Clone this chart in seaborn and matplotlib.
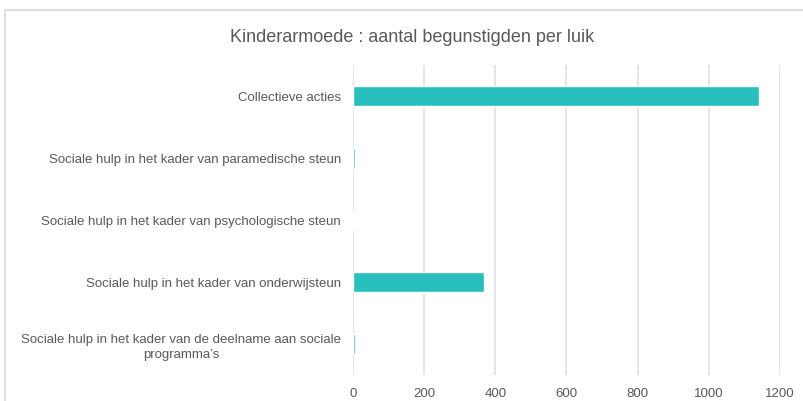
import numpy as np
import pandas as pd
import matplotlib.pyplot as plt
import seaborn as sns
from matplotlib.patches import Rectangle

luiken = ["Collectieve acties",
          "Sociale hulp in het kader van paramedische steun",
          "Sociale hulp in het kader van psychologische steun",
          "Sociale hulp in het kader van onderwijsteun",
          "Sociale hulp in het kader van de deelname aan sociale\nprogramma\u2019s"]
begunstigden = [1141, 6, 0, 368, 7]
xticks = [0, 200, 400, 600, 800, 1000, 1200]

df = pd.DataFrame({"luik": luiken, "aantal": begunstigden})

sns.set_style("white")
plt.rcParams['font.family'] = ['Liberation Sans', 'DejaVu Sans']

fig = plt.figure(figsize=(8.04, 4.01), dpi=100)
ax = fig.add_axes([0.439, 0.0648, 0.531, 0.773])

sns.barplot(data=df, x="aantal", y="luik", orient="h", color="#2abfbf",
            width=0.33, saturation=1, ax=ax)

ax.set_xlim(0, 1200)
ax.set_ylim(4.5, -0.5)
ax.set_xticks(xticks)
ax.xaxis.grid(True, color="#e0e0e0", lw=1.2)
ax.set_axisbelow(True)
for s in ax.spines.values():
    s.set_visible(False)
ax.tick_params(axis="both", length=0, colors="#595959", labelsize=9.5)
ax.tick_params(axis="y", pad=8.5)
ax.tick_params(axis="x", pad=9)
ax.set_yticks(range(len(luiken)))
ax.set_yticklabels(luiken, ha="right", multialignment="center", linespacing=1.4)
ax.set_xlabel("")
ax.set_ylabel("")

fig.patches.append(Rectangle((5 / 804, -0.05), 1.2, 1 - 10 / 401 + 0.05,
                             transform=fig.transFigure, fill=False,
                             edgecolor="#d9d9d9", lw=1.2))
fig.text(0.512, 1 - 37 / 401, "Kinderarmoede : aantal begunstigden per luik",
         ha="center", va="center", fontsize=13, color="#595959")

fig.savefig("out.png", dpi=100)
